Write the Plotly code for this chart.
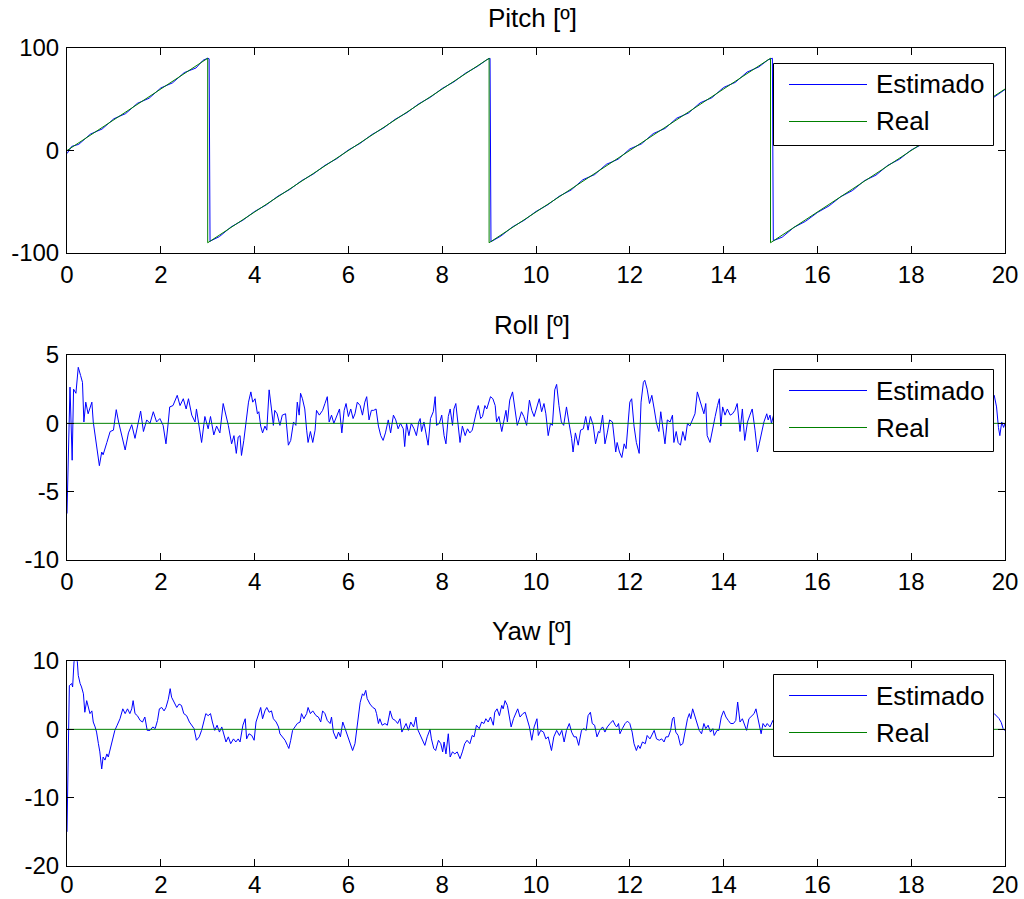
import plotly.graph_objects as go

# ---------------- data ----------------
time_ticks = [0, 2, 4, 6, 8, 10, 12, 14, 16, 18, 20]
time_tick_labels = ["0", "2", "4", "6", "8", "10", "12", "14", "16", "18", "20"]

pitch_ticks = [-100, 0, 100]
pitch_tick_labels = ["-100", "0", "100"]
roll_ticks = [-10, -5, 0, 5]
roll_tick_labels = ["-10", "-5", "0", "5"]
yaw_ticks = [-20, -10, 0, 10]
yaw_tick_labels = ["-20", "-10", "0", "10"]

# reference (real) attitude
pitch_real_t = [0, 3, 3, 9, 9, 15, 15, 20]
pitch_real = [0, 90, -90, 90, -90, 90, -90, 60]
roll_real_t = [0, 20]
roll_real = [0, 0]
yaw_real_t = [0, 20]
yaw_real = [0, 0]

# estimated pitch
pitch_est_t = [0, 0.1, 0.25, 0.5, 0.75, 1.0, 1.25, 1.5, 1.75, 2.0, 2.25, 2.5, 2.75, 2.9, 3.0, 3.03,
               3.05, 3.25, 3.5, 3.75, 4.0, 4.25, 4.5, 4.75, 5.0, 5.25, 5.5, 5.75, 6.0, 6.25, 6.5,
               6.75, 7.0, 7.25, 7.5, 7.75, 8.0, 8.25, 8.5, 8.75, 8.95, 9.02,
               9.04, 9.25, 9.5, 9.75, 10.0, 10.25, 10.5, 10.75, 11.0, 11.25, 11.5, 11.75, 12.0,
               12.25, 12.5, 12.75, 13.0, 13.25, 13.5, 13.75, 14.0, 14.25, 14.5, 14.75, 14.95, 15.04,
               15.06, 15.25, 15.5, 15.75, 16.0, 16.25, 16.5, 16.75, 17.0, 17.25, 17.5, 17.75, 18.0,
               18.25, 18.5, 18.75, 19.0, 19.25, 19.5, 19.75, 20.0]
pitch_est = [-3, 4, 6, 16, 21, 31, 36, 46, 51, 61, 66, 76, 80.5, 88, 90, 89.5,
             -88.5, -84, -74.5, -68, -59.5, -53, -44.5, -38, -29.5, -23, -14.5, -8, 0.5, 7, 15.5,
             22, 30.5, 37, 45.5, 52, 60.5, 67, 75.5, 82, 88.5, 90,
             -89, -83.5, -74.5, -68, -59.5, -53, -44.5, -38.5, -28.5, -23.5, -13.5, -8.5, 1.5,
             6.5, 16.5, 21.5, 31.5, 36.5, 46.5, 51.5, 61.5, 66.5, 76.5, 81.5, 88.5, 90,
             -88, -84.5, -75, -69, -60.5, -54, -45, -39, -29.5, -24, -14.5, -8.5, 0.5,
             6.5, 16, 21.5, 30.5, 36.5, 46, 51.5, 59.5]

# estimated roll
roll_est_t = [0, 0.03, 0.064, 0.11, 0.14, 0.19, 0.24, 0.29, 0.33, 0.36, 0.40, 0.45, 0.53, 0.56,
              0.61, 0.69, 0.74, 0.77, 0.85, 0.92, 0.99, 1.05, 1.10, 1.17, 1.24, 1.31, 1.38, 1.45,
              1.50, 1.57, 1.63, 1.70, 1.77, 1.84, 1.91, 1.98, 2.05, 2.11, 2.16, 2.19, 2.26, 2.35,
              2.41, 2.48, 2.54, 2.59, 2.66, 2.73, 2.76, 2.84, 2.87, 2.94, 3.01, 3.06, 3.13, 3.19,
              3.26, 3.33, 3.39, 3.44, 3.51, 3.56, 3.61, 3.65,
              3.69, 3.72, 3.77, 3.82, 3.87, 3.92, 3.96, 4.01, 4.06, 4.09, 4.13, 4.17, 4.22, 4.26,
              4.31, 4.36, 4.40, 4.43, 4.48, 4.54, 4.59, 4.66, 4.72, 4.77, 4.83, 4.88, 4.91, 4.95,
              4.98, 5.02, 5.07, 5.11, 5.14, 5.19, 5.24, 5.29, 5.32, 5.38, 5.45, 5.50, 5.55, 5.59,
              5.64, 5.69, 5.75, 5.81, 5.86, 5.91, 5.95, 6.00, 6.05, 6.10, 6.14, 6.19, 6.25, 6.30,
              6.35, 6.39, 6.44, 6.49, 6.54, 6.59, 6.64, 6.69, 6.74, 6.79, 6.85, 6.90, 6.96, 7.01,
              7.06, 7.11, 7.17, 7.20, 7.24, 7.29, 7.34, 7.40, 7.45, 7.50,
              7.53, 7.56, 7.61, 7.67, 7.70, 7.75, 7.81, 7.85, 7.88, 7.94, 7.99, 8.04, 8.08, 8.13,
              8.17, 8.22, 8.25, 8.29, 8.34, 8.38, 8.43, 8.49, 8.54, 8.59, 8.64, 8.69, 8.73, 8.77,
              8.82, 8.86, 8.91, 8.95, 9.00, 9.03, 9.08, 9.13, 9.16, 9.21, 9.27, 9.32, 9.36, 9.39,
              9.44, 9.50, 9.55, 9.60, 9.64, 9.69, 9.74, 9.80, 9.86, 9.91, 9.96, 10.02, 10.07,
              10.12, 10.17, 10.21, 10.26, 10.31, 10.35, 10.40, 10.44, 10.49, 10.54, 10.59, 10.65,
              10.70, 10.76, 10.79, 10.84, 10.90, 10.95, 11.01, 11.06, 11.11, 11.16, 11.22, 11.27,
              11.33,
              11.36, 11.42, 11.47, 11.52, 11.57, 11.63, 11.70, 11.73, 11.78, 11.83, 11.88, 11.92,
              11.97, 12.00, 12.04, 12.09, 12.14, 12.20, 12.24, 12.29, 12.32, 12.37, 12.42, 12.47,
              12.52, 12.57, 12.62, 12.66, 12.70, 12.75, 12.80, 12.86, 12.91, 12.94, 12.99, 13.03,
              13.08, 13.13, 13.18, 13.23, 13.28, 13.34, 13.39, 13.44, 13.48, 13.53, 13.58, 13.62,
              13.65, 13.71, 13.77, 13.82, 13.87, 13.91, 13.94, 13.98, 14.03, 14.08, 14.14, 14.19,
              14.24, 14.29, 14.35, 14.40, 14.45, 14.51, 14.56, 14.61, 14.67, 14.72, 14.76, 14.81,
              14.86, 14.92, 14.95, 14.99, 15.02,
              15.08, 15.20, 15.35, 15.50, 15.65, 15.80, 15.95, 16.10, 16.25, 16.40, 16.55, 16.70,
              16.85, 17.00, 17.15, 17.30, 17.45, 17.60, 17.75, 17.90, 18.05, 18.20, 18.35, 18.50,
              18.65, 18.80, 18.95, 19.10, 19.25, 19.40, 19.55, 19.70, 19.77, 19.82, 19.86, 19.89,
              19.93, 19.97, 20.0]
roll_est = [-6.6, -1.0, 2.65, -2.7, 2.5, 2.2, 4.1, 3.5, 3.0, 0.1, 1.55, 0.7, 1.55, 0.1,
            -1.25, -3.1, -2.1, -2.3, -1.4, -0.6, -0.5, 1.0, 0.1, -0.85, -1.95, -0.7, -0.1, -1.1,
            -0.2, 0.9, -0.6, 0.25, 0.0, 0.85, 0.1, 0.35, -0.15, -1.5, 0.1, 1.2, 1.3, 2.05,
            1.3, 1.8, 1.05, 1.8, 0.6, 0.1, 1.05, -0.6, -1.4, 0.5, -0.4, 0.5, -0.85, -0.2,
            -0.7, 1.45, 0.6, -0.15, -1.5, -0.9, -2.2, -1.0,
            -0.9, -2.35, -1.25, 0.1, 1.55, 2.3, 1.55, 1.8, 0.7, 0.85, -0.2, -0.7, -0.2, -0.5,
            2.45, 1.05, -0.15, 0.95, 0.7, -0.15, 0.6, 0.7, -1.6, -1.25, 0.1, -0.15, 1.55, 0.6,
            2.2, 1.8, 1.05, -0.5, -1.4, -0.6, -1.4, -0.5, 0.95, 0.6, 0.95, 1.45, 1.95, 0.1,
            0.6, 0.0, 0.5, 1.05, -0.7, 0.95, 1.45, 0.5, 1.05, 0.35, 0.7, 1.55, 1.3, 0.6,
            1.55, 1.95, 0.25, 0.95, 0.95, 1.05, -0.2, -0.9, -1.25, -0.7, 0.25, -0.7, 0.6, 0.25,
            -0.4, 0.0, -0.4, -1.7, 0.0, -0.9, 0.0, -0.4, -0.9, 0.1,
            0.35, -0.6, 0.1, -0.9, -1.6, 0.35, 0.85, 1.95, -0.15, 0.0, 0.6, -0.9, -1.5, 0.5,
            1.05, -0.15, 1.05, 1.45, -0.15, -1.4, -0.2, -0.9, -0.4, -0.7, -0.5, 0.35, 0.85, 1.3,
            0.35, 0.5, 1.3, 1.05, 1.55, 1.95, 1.8, 1.3, 0.1, 0.5, -0.6, 0.35, 0.95, 0.1,
            1.7, 2.3, 1.05, -0.15, 0.25, 0.85, 0.5, -0.15, 1.7, 0.95, 0.5, 1.3, 1.8,
            0.85, 1.45, 0.7, -0.9, 0.0, -0.15, 2.45, 2.85, 1.3, 0.1, -0.15, 1.2,
            0.1, -1.1, -2.1, -0.7, -1.6, -0.5, -0.4, 0.5, -0.5, 0.5, -0.15, -1.5,
            -0.6,
            -0.7, 0.6, -1.5, -0.7, 0.25, 0.1, -2.1, -1.4, -2.1, -2.5, -1.5, -1.85,
            0.0, 1.55, 1.8, -0.2, -1.4, -2.2, 1.55, 3.0, 3.15, 2.5, 1.45, 2.05,
            1.05, 0.0, -0.6, 0.85, -0.2, -1.5, 0.25, 0.1, 0.6, -1.4, -0.6, -1.4,
            -1.6, -0.6, -1.25, 0.0, -0.2, 0.25, 0.7, 2.3, 1.8, 1.3, 0.7, 1.45,
            -0.9, -1.4, -0.2, 0.5, 1.3, 1.8, -0.2, 1.2, 0.6, 1.05, 0.6, 0.7,
            0.95, 1.45, -0.6, 1.05, -1.25, 0.1, 0.6, 1.05, -0.5, -2.1, -1.5, -0.7,
            0.1, 0.7, 0.25, 0.6, 0.0,
            0.8, -0.5, 1.2, 0.3, -1.0, 0.6, 1.5, -0.2, 0.9, -0.8, 0.4, 1.7,
            0.2, -1.1, 0.5, 1.1, -0.4, 0.7, 2.0, 0.3, -0.9, 0.6, 1.3, -0.3,
            0.8, -1.2, 0.2, 1.4, 0.5, -0.6, 1.0, 1.8, 2.05, 1.2, -0.3, -0.9,
            0.1, -0.3, 0.0]

# estimated yaw
yaw_est_t = [0, 0.05, 0.10, 0.12, 0.15, 0.19, 0.22, 0.24, 0.28, 0.31, 0.35, 0.38, 0.42, 0.45,
             0.49, 0.53, 0.56, 0.60, 0.63, 0.67, 0.70, 0.74, 0.77, 0.81, 0.85, 0.88, 0.92, 0.97,
             1.02, 1.07, 1.13, 1.19, 1.24, 1.29, 1.34, 1.38, 1.41, 1.45, 1.50, 1.56, 1.61, 1.66,
             1.71, 1.77, 1.83, 1.88, 1.93, 1.97, 2.02, 2.07, 2.11, 2.16, 2.20, 2.23, 2.28, 2.34,
             2.39, 2.44, 2.49, 2.55, 2.61, 2.66, 2.71, 2.76, 2.82, 2.87, 2.92, 2.96, 3.01, 3.06,
             3.10, 3.15, 3.20, 3.25, 3.30, 3.35, 3.39, 3.44, 3.49, 3.55, 3.60, 3.65,
             3.69, 3.75, 3.80, 3.83, 3.88, 3.94, 3.99, 4.03, 4.08, 4.13, 4.17, 4.22, 4.26, 4.31,
             4.36, 4.40, 4.46, 4.51, 4.54, 4.59, 4.65, 4.70, 4.73, 4.77, 4.81, 4.86, 4.91, 4.97,
             5.00, 5.05, 5.11, 5.14, 5.19, 5.24, 5.31, 5.36, 5.41, 5.45, 5.50, 5.55, 5.61, 5.64,
             5.68, 5.74, 5.79, 5.83, 5.88, 5.93, 5.98, 6.04, 6.09, 6.14, 6.18, 6.21, 6.25, 6.30,
             6.33, 6.37, 6.40, 6.46, 6.52, 6.57, 6.60, 6.64, 6.67, 6.72, 6.78, 6.83, 6.89, 6.94,
             7.00, 7.05, 7.10, 7.14, 7.19, 7.23, 7.28, 7.33, 7.39, 7.44, 7.47,
             7.53, 7.58, 7.63, 7.68, 7.74, 7.77, 7.82, 7.86, 7.92, 7.97, 8.01, 8.04, 8.08, 8.13,
             8.17, 8.22, 8.27, 8.32, 8.38, 8.43, 8.48, 8.53, 8.59, 8.64, 8.68, 8.73, 8.79, 8.84,
             8.89, 8.93, 8.98, 9.03, 9.09, 9.12, 9.17, 9.22, 9.27, 9.30, 9.34, 9.39, 9.43, 9.47,
             9.52, 9.57, 9.61, 9.66, 9.72, 9.77, 9.82, 9.86, 9.91, 9.96, 10.02, 10.05, 10.10,
             10.16, 10.21, 10.26, 10.33, 10.38, 10.44, 10.50, 10.55, 10.60, 10.65, 10.71, 10.76,
             10.81, 10.86, 10.91, 10.97, 11.02, 11.07, 11.11, 11.16, 11.20, 11.25, 11.30,
             11.36, 11.42, 11.47, 11.52, 11.58, 11.64, 11.69, 11.72, 11.76, 11.79, 11.84, 11.90,
             11.95, 12.00, 12.05, 12.09, 12.14, 12.18, 12.22, 12.27, 12.33, 12.37, 12.43, 12.48,
             12.52, 12.57, 12.63, 12.68, 12.73, 12.77, 12.82, 12.87, 12.91, 12.94, 12.98, 13.03,
             13.08, 13.13, 13.18, 13.23, 13.27, 13.30, 13.34, 13.39, 13.44, 13.48, 13.53, 13.58,
             13.62, 13.67, 13.72, 13.77, 13.80, 13.86, 13.90, 13.95, 14.00, 14.05, 14.10, 14.15,
             14.21, 14.26, 14.30, 14.35, 14.40, 14.46, 14.49, 14.54, 14.60, 14.65, 14.69, 14.74,
             14.80, 14.84, 14.89, 14.93, 14.99, 15.05,
             15.10, 15.20, 15.30, 15.45, 15.60, 15.75, 15.90, 16.05, 16.20, 16.35, 16.50, 16.65,
             16.80, 16.95, 17.10, 17.25, 17.40, 17.55, 17.70, 17.85, 18.00, 18.15, 18.30, 18.45,
             18.60, 18.75, 18.90, 19.05, 19.20, 19.35, 19.50, 19.65, 19.77, 19.82, 19.87, 19.92,
             19.96, 20.0]
yaw_est = [-15, 6.4, 6.7, 6.2, 9.9, 10.3, 9.9, 7.9, 6.7, 6.2, 5.2, 2.5, 4.2, 3.5,
           2.3, 2.7, 1.07, 0.35, -0.4, -2.1, -3.3, -5.8, -4.05, -4.5, -3.6, -4.05, -2.8, -1.4,
           -0.15, 0.6, 1.55, 3.0, 2.3, 3.0, 2.3, 3.0, 4.2, 2.3, 2.0, 1.3, 1.07, 1.8,
           -0.15, -0.15, 0.35, 0.1, 1.3, 3.0, 3.2, 2.7, 3.2, 4.4, 5.95, 4.7, 4.0, 3.2,
           3.7, 3.5, 2.3, 2.0, 1.07, 0.6, 0.1, -1.6, -1.1, -0.15, 1.3, 2.3, 2.0, 2.3,
           1.07, -0.15, 0.6, -0.4, 0.35, -0.9, -1.85, -1.1, -2.1, -1.4, -1.85, -1.4,
           -1.85, 0.6, 1.55, -1.4, -0.65, -0.9, -1.6, 1.07, 2.3, 3.2, 1.55, 2.7, 3.2, 2.5,
           2.7, 1.55, 1.07, 0.35, -0.65, -1.1, -1.6, -2.35, -2.8, -1.6, -0.15, 0.35, 0.85, 1.07,
           2.3, 1.55, 2.3, 3.2, 2.3, 2.7, 2.0, 1.8, 1.07, 2.7, 2.3, 1.3, 0.85, 1.8,
           -0.4, -1.4, -0.4, -1.1, 1.07, 0.1, -0.9, -2.35, -3.1, -2.1, 0.1, 2.5, 3.9, 5.2,
           4.95, 5.7, 4.5, 3.7, 3.2, 3.0, 2.3, 0.85, 1.55, 0.6, 0.85, 0.6, 2.7, 1.55,
           1.3, 0.85, 1.55, -0.4, 0.35, 0.85, -0.15, 1.07, 0.35, 1.8, 0.1,
           -0.9, -1.6, -2.35, -1.1, 0.0, -1.4, -2.8, -3.1, -1.6, -2.1, -3.3, -1.85, -3.6, -0.65,
           -4.05, -3.3, -3.6, -3.3, -4.3, -3.3, -2.1, -1.6, -2.1, -0.9, -1.1, 0.6, 0.1, 1.07,
           0.85, 1.55, 1.07, 1.8, 0.6, 2.5, 3.0, 2.0, 3.5, 3.0, 4.2, 3.5, 1.55, 0.35,
           1.55, 2.3, 3.0, 1.8, 2.3, 2.5, 1.07, 0.35, -1.6, 0.35, 1.55, -0.9, -0.15,
           -0.4, -1.4, -1.1, -3.1, -1.1, -0.15, -0.9, -0.15, -1.85, -0.15, 0.85, -0.4,
           -1.1, -1.1, -2.35, -0.15, 0.1, -0.15, 2.0, 2.5, 0.85, 0.6, -1.1,
           -0.15, 0.35, -0.4, 0.35, 0.85, 1.3, 0.6, 0.35, 0.85, -0.65, 0.1, 0.85,
           1.2, 0.85, -0.4, -2.1, -3.1, -2.35, -2.8, -1.85, -2.1, -0.9, -1.4, -0.65,
           -0.15, -1.4, -1.6, -1.4, -1.85, -1.1, -1.1, -0.15, 1.55, 1.8, -0.4, -0.9,
           -2.35, -2.1, -0.15, 1.55, 2.3, 1.55, 3.0, 1.8, 0.85, -0.15, -0.65, 0.85,
           0.1, 0.6, -0.4, 0.1, -0.9, -0.15, -0.15, 1.8, 2.7, 1.8, 1.3, 0.85,
           0.85, 1.3, 4.0, 1.07, 1.55, 0.35, -0.15, 1.55, 2.0, 2.3, 3.0, 1.07,
           -0.65, 0.85, 0.35, 0.85, 0.35, 1.3,
           0.5, 1.8, 0.2, 2.5, 1.0, -0.8, 0.9, 2.2, 3.1, 1.4, 0.3, -1.2,
           -0.4, 1.1, 2.6, 1.7, 0.5, 1.9, 3.4, 2.2, 0.8, -0.5, 0.6, 1.8,
           1.1, 2.9, 1.6, 0.4, 1.3, 2.4, 1.5, 2.6, 2.3, 2.0, 1.6, 1.0,
           0.1, -0.2]

series_names = ["Estimado", "Real"]
panel_titles = ["Pitch [º]", "Roll [º]", "Yaw [º]"]

# ---------------- layout helpers ----------------
W, H = 1024, 899
BLUE = "#0000FF"
GREEN = "#008000"
FONT = "Liberation Sans, Arial, sans-serif"


def px(x):
    return x / W


def py(y):
    return 1 - y / H


plot_left, plot_right = 67, 1005
panel_boxes = [(48, 253), (355, 560), (661, 866)]   # top, bottom in pixels
title_y = [18, 325, 631]
title_x = 532
legend_tops = [63.5, 369.5, 674.5]
x_label_standoff = [0, 0, -3]

panels = [
    (pitch_est_t, pitch_est, pitch_real_t, pitch_real, [-100, 100], pitch_ticks, pitch_tick_labels),
    (roll_est_t, roll_est, roll_real_t, roll_real, [-10, 5], roll_ticks, roll_tick_labels),
    (yaw_est_t, yaw_est, yaw_real_t, yaw_real, [-20, 10], yaw_ticks, yaw_tick_labels),
]

fig = go.Figure()
layout = dict(
    width=W, height=H,
    margin=dict(l=0, r=0, t=0, b=0, autoexpand=False),
    paper_bgcolor="white", plot_bgcolor="white",
    showlegend=False,
    font=dict(family=FONT, size=24, color="black"),
)
shapes = []
annotations = []

for i, (et, ev, rt, rv, yr, yt, ytl) in enumerate(panels):
    n = "" if i == 0 else str(i + 1)
    xa, ya = "x" + n, "y" + n
    fig.add_trace(go.Scatter(x=et, y=ev, mode="lines", name=series_names[0],
                             line=dict(color=BLUE, width=1), xaxis=xa, yaxis=ya))
    fig.add_trace(go.Scatter(x=rt, y=rv, mode="lines", name=series_names[1],
                             line=dict(color=GREEN, width=1), xaxis=xa, yaxis=ya))
    top, bot = panel_boxes[i]
    common = dict(showgrid=False, zeroline=False, showline=True, linecolor="black",
                  linewidth=1, mirror="ticks", ticks="inside", ticklen=7, tickwidth=1,
                  tickcolor="black", tickfont=dict(family=FONT, size=24, color="black"),
                  tickmode="array", automargin=False)
    layout["xaxis" + n] = dict(domain=[px(plot_left), px(plot_right)], range=[0, 20],
                               anchor=ya, tickvals=time_ticks, ticktext=time_tick_labels,
                               ticklabelstandoff=x_label_standoff[i], **common)
    layout["yaxis" + n] = dict(domain=[py(bot), py(top)], range=yr, anchor=xa,
                               tickvals=yt, ticktext=ytl, ticklabelstandoff=2, **common)

    # panel title
    annotations.append(dict(text=panel_titles[i], x=px(title_x),
                            y=py(title_y[i]), xref="paper", yref="paper",
                            xanchor="center", yanchor="middle", showarrow=False,
                            font=dict(family=FONT, size=26, color="black")))

    # legend box
    lt = legend_tops[i]
    shapes.append(dict(type="rect", xref="paper", yref="paper", layer="above",
                       x0=px(773.5), x1=px(993.5), y0=py(lt), y1=py(lt + 82),
                       fillcolor="white", line=dict(color="black", width=1)))
    for k, (name, col) in enumerate(zip(series_names, [BLUE, GREEN])):
        ly = lt + 21 + k * 37
        shapes.append(dict(type="line", xref="paper", yref="paper", layer="above",
                           x0=px(789), x1=px(867), y0=py(ly), y1=py(ly),
                           line=dict(color=col, width=1)))
        annotations.append(dict(text=name, x=px(874), y=py(ly), xref="paper", yref="paper",
                                xanchor="left", yanchor="middle", showarrow=False,
                                font=dict(family=FONT, size=26, color="black")))

layout["shapes"] = shapes
layout["annotations"] = annotations
fig.update_layout(**layout)
fig.write_html("out.html")
